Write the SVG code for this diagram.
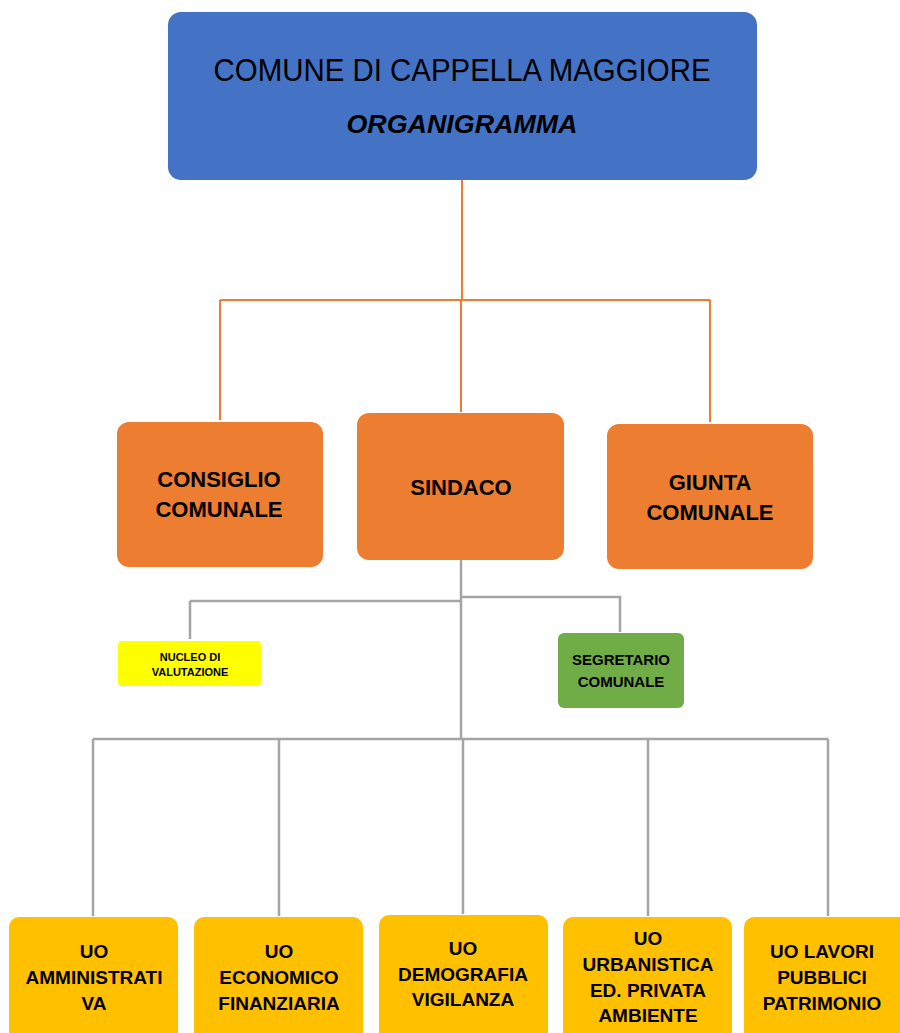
<svg xmlns="http://www.w3.org/2000/svg" width="900" height="1033" viewBox="0 0 900 1033">
<style>
.t{font-family:"Liberation Sans","Open Sans",Arial,sans-serif;fill:#000;text-anchor:middle}
.b{font-weight:bold}
.oc{stroke:#ED7D31;stroke-width:2;fill:none}
.gc{stroke:#A5A5A5;stroke-width:2.5;fill:none}
.org{fill:#ED7D31}
.uo{fill:#FFC000}
</style>
<rect width="900" height="1033" fill="#fff"/>
<g id="connectors">
<path class="oc" d="M462 180 V300 M220 300 H710 M220 300 V420 M461 300 V412 M710 300 V422"/>
<path class="gc" d="M461 560 V739 M190 601 H461 M190 601 V639 M461 597 H620 V632 M93 739 H828 M93 739 V916 M279 739 V916 M463 739 V914 M648 739 V916 M828 739 V916"/>
</g>
<g id="comune">
<rect x="168" y="12" width="589" height="168" rx="13" fill="#4472C4"/>
<text class="t" x="462" y="81" font-size="32" textLength="497" lengthAdjust="spacingAndGlyphs">COMUNE DI CAPPELLA MAGGIORE</text>
<text class="t b" x="462" y="133" font-size="25" font-style="italic" textLength="231" lengthAdjust="spacingAndGlyphs">ORGANIGRAMMA</text>
</g>
<g id="consiglio">
<rect class="org" x="117" y="422" width="206" height="145" rx="12"/>
<text class="t b" x="219" y="487" font-size="22">CONSIGLIO</text>
<text class="t b" x="219" y="517" font-size="22">COMUNALE</text>
</g>
<g id="sindaco">
<rect class="org" x="357" y="413" width="207" height="147" rx="12"/>
<text class="t b" x="461" y="495" font-size="22">SINDACO</text>
</g>
<g id="giunta">
<rect class="org" x="607" y="424" width="206" height="145" rx="12"/>
<text class="t b" x="710" y="490" font-size="22">GIUNTA</text>
<text class="t b" x="710" y="520" font-size="22">COMUNALE</text>
</g>
<g id="nucleo">
<rect x="118" y="641" width="143" height="45" rx="4" fill="#FFFF00"/>
<text class="t b" x="190" y="661" font-size="11">NUCLEO DI</text>
<text class="t b" x="190" y="676" font-size="11">VALUTAZIONE</text>
</g>
<g id="segretario">
<rect x="558" y="633" width="126" height="75" rx="6" fill="#70AD47"/>
<text class="t b" x="621" y="665" font-size="15">SEGRETARIO</text>
<text class="t b" x="621" y="687" font-size="15">COMUNALE</text>
</g>
<g id="uo1">
<rect class="uo" x="9" y="917" width="169" height="130" rx="10"/>
<text class="t b" x="94" y="958" font-size="19">UO</text>
<text class="t b" x="94" y="984" font-size="19">AMMINISTRATI</text>
<text class="t b" x="94" y="1010" font-size="19">VA</text>
</g>
<g id="uo2">
<rect class="uo" x="194" y="917" width="169" height="130" rx="10"/>
<text class="t b" x="279" y="958" font-size="19">UO</text>
<text class="t b" x="279" y="984" font-size="19">ECONOMICO</text>
<text class="t b" x="279" y="1010" font-size="19">FINANZIARIA</text>
</g>
<g id="uo3">
<rect class="uo" x="379" y="915" width="169" height="130" rx="10"/>
<text class="t b" x="463" y="955" font-size="19">UO</text>
<text class="t b" x="463" y="981" font-size="19">DEMOGRAFIA</text>
<text class="t b" x="463" y="1006" font-size="19">VIGILANZA</text>
</g>
<g id="uo4">
<rect class="uo" x="563" y="917" width="169" height="130" rx="10"/>
<text class="t b" x="648" y="945" font-size="19">UO</text>
<text class="t b" x="648" y="971" font-size="19">URBANISTICA</text>
<text class="t b" x="648" y="997" font-size="19">ED. PRIVATA</text>
<text class="t b" x="648" y="1022" font-size="19">AMBIENTE</text>
</g>
<g id="uo5">
<rect class="uo" x="744" y="917" width="169" height="130" rx="10"/>
<text class="t b" x="822" y="958" font-size="19">UO LAVORI</text>
<text class="t b" x="822" y="984" font-size="19">PUBBLICI</text>
<text class="t b" x="822" y="1010" font-size="19">PATRIMONIO</text>
</g>
</svg>
